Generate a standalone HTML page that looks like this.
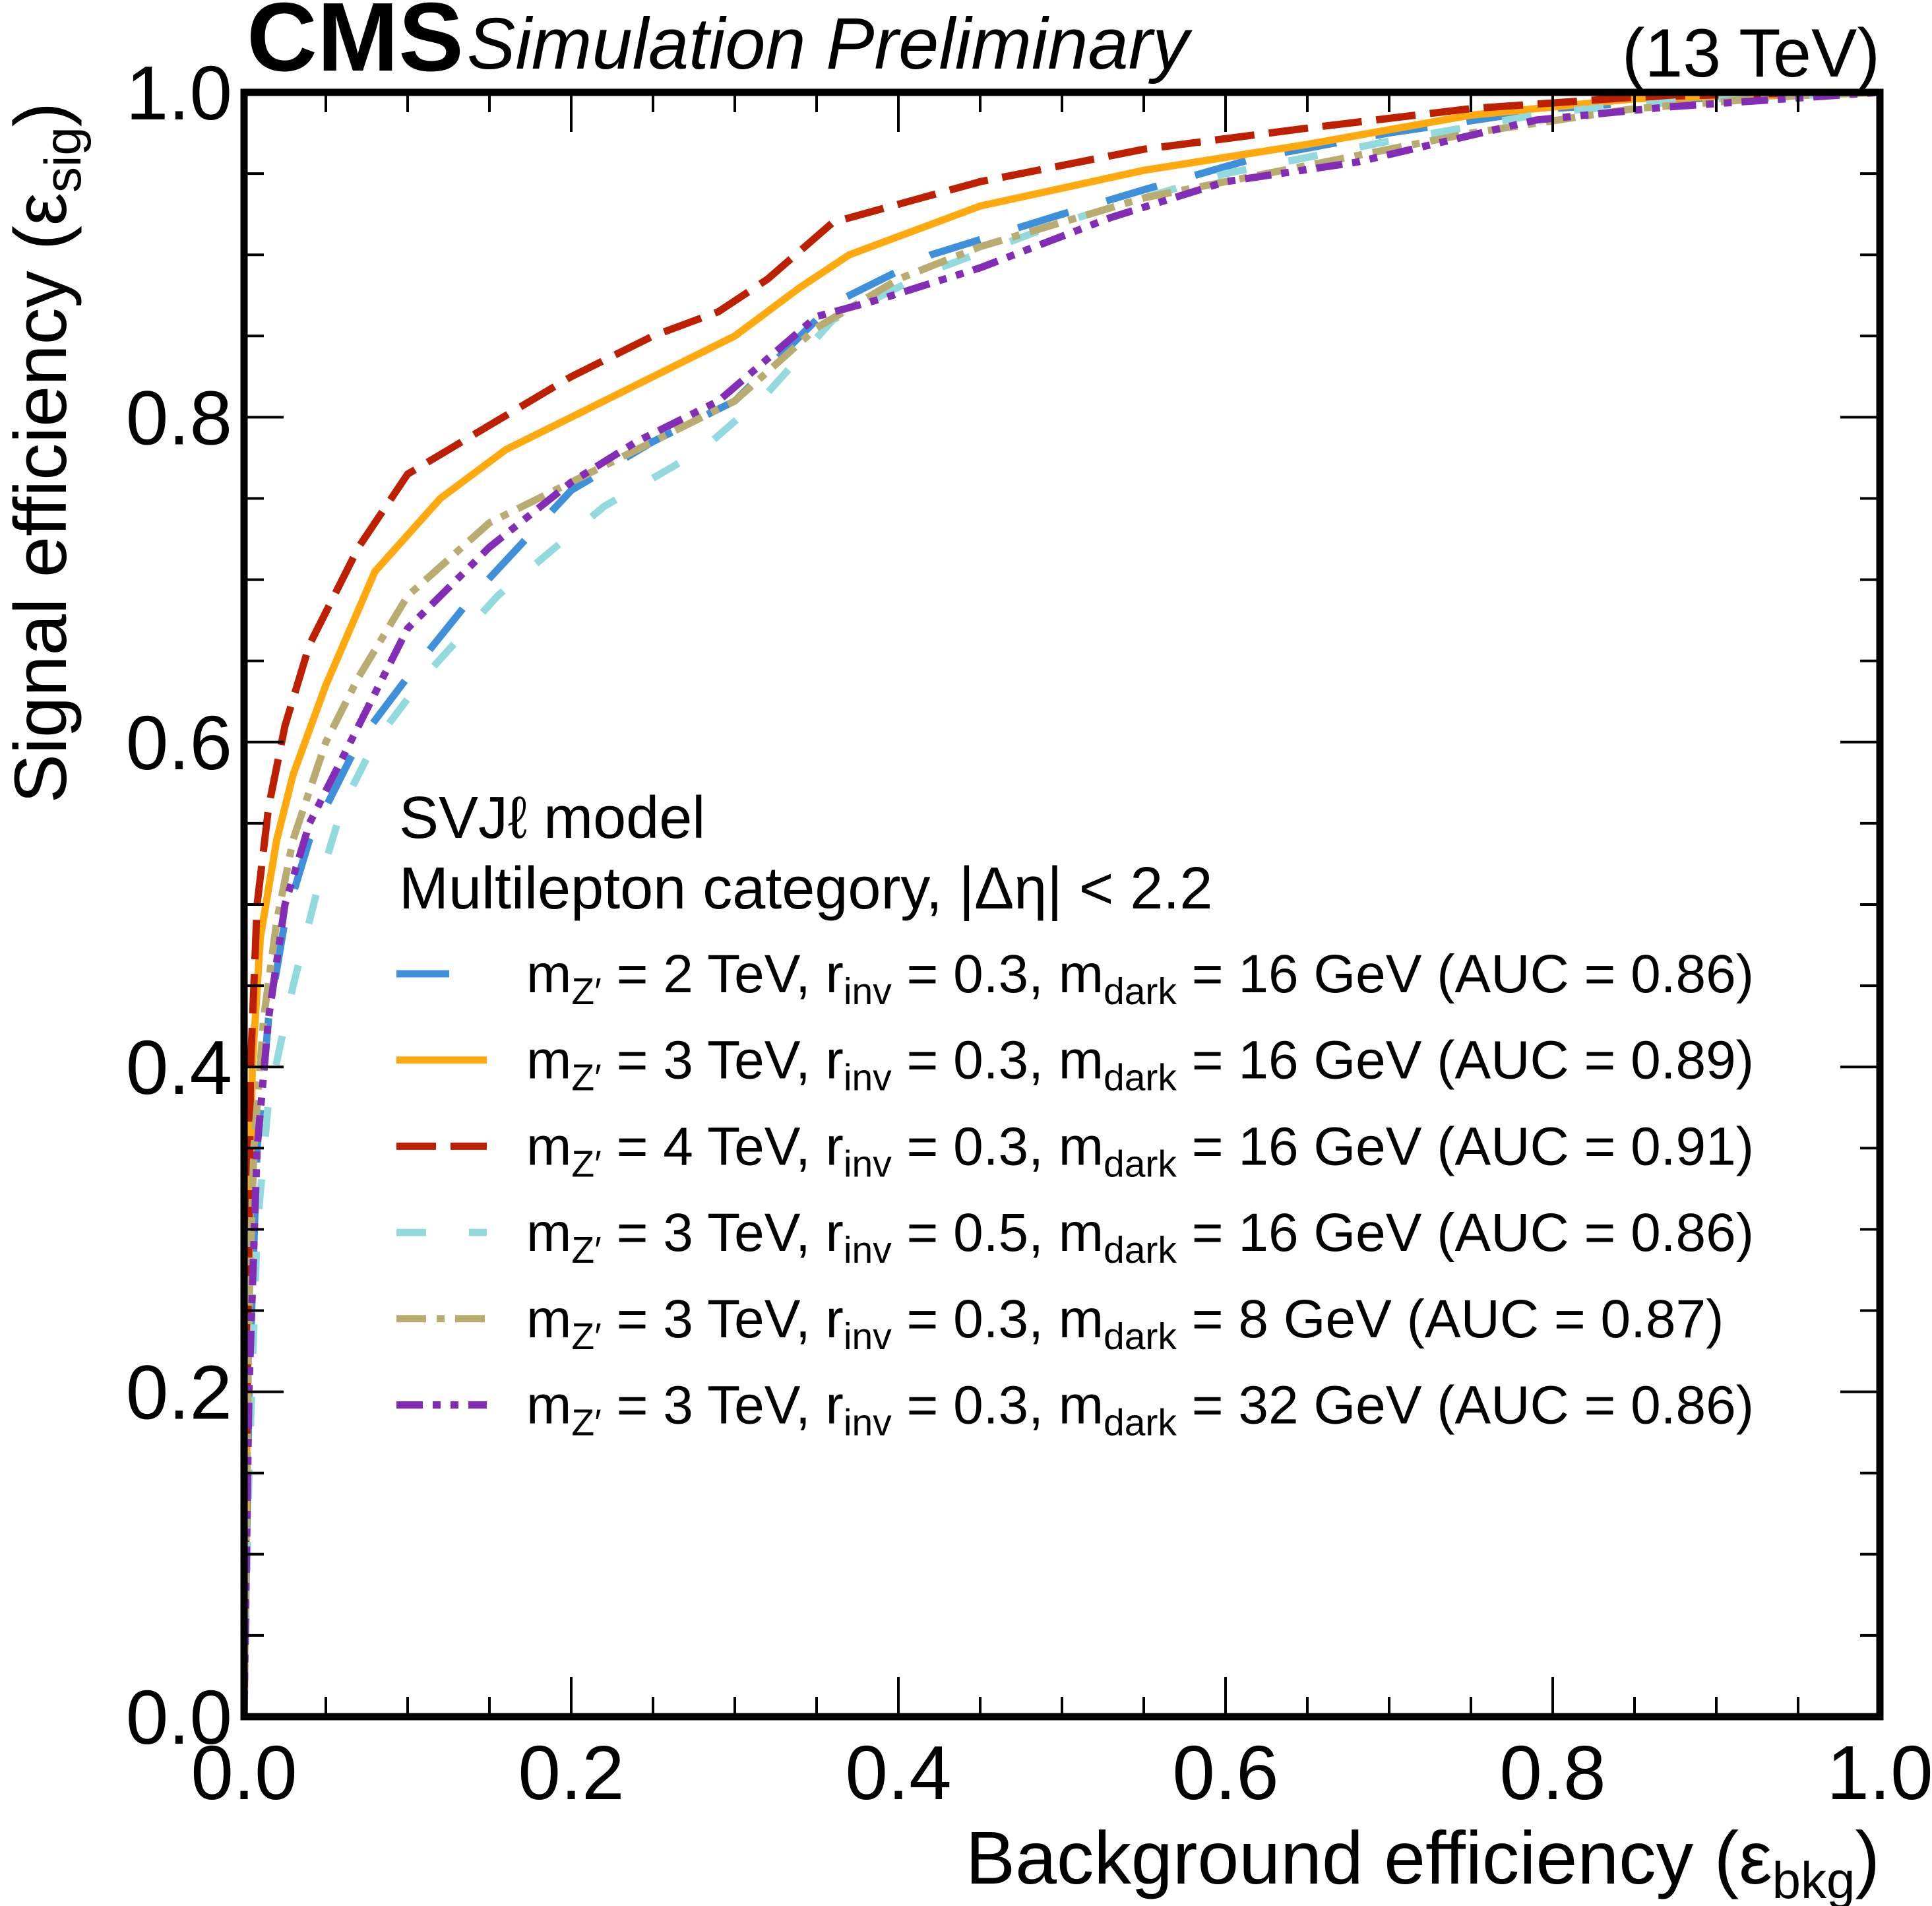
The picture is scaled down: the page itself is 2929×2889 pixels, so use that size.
<!DOCTYPE html>
<html><head><meta charset="utf-8"><style>
html,body{margin:0;padding:0;background:#fff}
svg{display:block;font-family:"Liberation Sans",sans-serif}
</style></head><body>
<svg id="chart" width="2929" height="2889" viewBox="0 0 2929 2889" xmlns="http://www.w3.org/2000/svg">
<g id="curves"></g>
<g id="axes"></g>
<text x="374" y="107" font-size="148" font-weight="bold">CMS</text>
<text x="708" y="104" font-size="110" font-style="italic">Simulation Preliminary</text>
<text x="2850" y="116" font-size="104" text-anchor="end">(13 TeV)</text>
<text x="2850" y="2855" font-size="113" text-anchor="end">Background efficiency (ε<tspan font-size="78" dy="22">bkg</tspan><tspan dy="-22">)</tspan></text>
<text transform="translate(100,155) rotate(-90)" font-size="112" text-anchor="end">Signal efficiency (ε<tspan font-size="78" dy="22">sig</tspan><tspan dy="-22">)</tspan></text>
<text x="605" y="1270" font-size="90">SVJℓ model</text>
<text x="605" y="1377" font-size="90">Multilepton category,  |Δη| &lt; 2.2</text>
<g id="legend"></g>
</svg>
<script>
const X0=370,X1=2850,Y0=2602,Y1=140;
const sx=v=>X0+v*(X1-X0), sy=v=>Y0-v*(Y0-Y1);
const NS="http://www.w3.org/2000/svg";
const xTickLabels=["0.0","0.2","0.4","0.6","0.8","1.0"];
const yTickLabels=["0.0","0.2","0.4","0.6","0.8","1.0"];
const seriesNames=["mz2-rinv03-md16","mz3-rinv03-md16","mz4-rinv03-md16","mz3-rinv05-md16","mz3-rinv03-md8","mz3-rinv03-md32"];
const mzVals=["2","3","4","3","3","3"];
const rinvVals=["0.3","0.3","0.3","0.5","0.3","0.3"];
const mdarkVals=["16","16","16","16","8","32"];
const aucVals=["0.86","0.89","0.91","0.86","0.87","0.86"];
const blueX=[0,0.003,0.008,0.015,0.025,0.04,0.07,0.1,0.14,0.2,0.25,0.3,0.36,0.42,0.5,0.55,0.62,0.7,0.8,0.9,1];
const blueY=[0,0.2,0.35,0.43,0.49,0.54,0.6,0.64,0.69,0.755,0.785,0.81,0.87,0.9,0.925,0.94,0.96,0.975,0.99,0.997,1];
const orangeX=[0,0.002,0.005,0.01,0.02,0.03,0.05,0.08,0.12,0.16,0.2,0.25,0.3,0.34,0.37,0.45,0.55,0.65,0.75,0.85,1];
const orangeY=[0,0.2,0.4,0.48,0.54,0.58,0.635,0.705,0.75,0.78,0.8,0.825,0.85,0.88,0.9,0.93,0.952,0.968,0.986,0.996,1];
const redX=[0,0.002,0.004,0.008,0.015,0.025,0.04,0.07,0.1,0.15,0.2,0.25,0.29,0.32,0.36,0.45,0.55,0.65,0.75,0.85,0.92,1];
const redY=[0,0.2,0.4,0.5,0.56,0.61,0.66,0.72,0.765,0.795,0.825,0.85,0.865,0.885,0.92,0.945,0.965,0.978,0.99,0.997,0.999,1];
const cyanX=[0,0.003,0.008,0.015,0.03,0.045,0.06,0.08,0.11,0.155,0.22,0.28,0.32,0.36,0.42,0.5,0.6,0.7,0.8,0.9,1];
const cyanY=[0,0.15,0.3,0.38,0.45,0.51,0.56,0.6,0.64,0.69,0.745,0.78,0.815,0.86,0.89,0.92,0.95,0.97,0.988,0.996,1];
const tanX=[0,0.003,0.006,0.012,0.02,0.03,0.05,0.07,0.1,0.15,0.2,0.25,0.3,0.35,0.4,0.45,0.55,0.65,0.75,0.85,0.95,1];
const tanY=[0,0.25,0.35,0.43,0.49,0.54,0.6,0.64,0.69,0.735,0.76,0.785,0.81,0.855,0.885,0.905,0.935,0.955,0.975,0.99,0.998,1];
const purpleX=[0,0.003,0.008,0.015,0.025,0.04,0.07,0.1,0.15,0.2,0.24,0.29,0.35,0.39,0.45,0.53,0.6,0.68,0.79,0.87,1];
const purpleY=[0,0.2,0.35,0.43,0.5,0.55,0.61,0.67,0.72,0.76,0.785,0.81,0.862,0.873,0.892,0.923,0.945,0.957,0.983,0.991,1];
const allX=[blueX,orangeX,redX,cyanX,tanX,purpleX], allY=[blueY,orangeY,redY,cyanY,tanY,purpleY];
const colors=["#3f90da","#ffa90e","#bd1f01","#92dadd","#b9ac70","#832db6"];
const dashes=["80 60","","60 22","45 65","45 16 12 16","40 15 12 15 12 15"];
const curves=document.getElementById('curves');
for(let i=0;i<6;i++){
  const p=document.createElementNS(NS,'path');
  
  
  let d='';allX[i].forEach((x,j)=>{d+=(j?'L':'M')+sx(x).toFixed(1)+','+sy(allY[i][j]).toFixed(1);});
  p.setAttribute('d',d);p.setAttribute('fill','none');p.setAttribute('stroke',colors[i]);
  p.setAttribute('stroke-width','11');if(dashes[i])p.setAttribute('stroke-dasharray',dashes[i]);
  curves.appendChild(p);
}
const axes=document.getElementById('axes');
function ln(x1,y1,x2,y2,w,name){const l=document.createElementNS(NS,'line');


l.setAttribute('x1',x1);l.setAttribute('y1',y1);l.setAttribute('x2',x2);l.setAttribute('y2',y2);
l.setAttribute('stroke','#000');l.setAttribute('stroke-width',w);axes.appendChild(l);}
for(let k=0;k<=20;k++){const v=k/20,maj=k%4===0,L=maj?60:30;
 if(k>0&&k<20){ln(sx(v),Y0,sx(v),Y0-L,4,'x-tick');ln(sx(v),Y1,sx(v),Y1+L,4,'x-tick-top');
 ln(X0,sy(v),X0+L,sy(v),4,'y-tick');ln(X1,sy(v),X1-L,sy(v),4,'y-tick-right');}}
const fr=document.createElementNS(NS,'rect');


fr.setAttribute('x',X0);fr.setAttribute('y',Y1);fr.setAttribute('width',X1-X0);fr.setAttribute('height',Y0-Y1);
fr.setAttribute('fill','none');fr.setAttribute('stroke','#000');fr.setAttribute('stroke-width','11');axes.appendChild(fr);
xTickLabels.forEach((t,i)=>{const e=document.createElementNS(NS,'text');


e.setAttribute('x',sx(i/5));e.setAttribute('y',2727);e.setAttribute('font-size','116');e.setAttribute('text-anchor','middle');e.textContent=t;axes.appendChild(e);});
yTickLabels.forEach((t,i)=>{const e=document.createElementNS(NS,'text');


e.setAttribute('x',352);e.setAttribute('y',sy(i/5)+41);e.setAttribute('font-size','116');e.setAttribute('text-anchor','end');e.textContent=t;axes.appendChild(e);});
const leg=document.getElementById('legend');
for(let i=0;i<6;i++){const y=1504+i*130.7;
 const l=document.createElementNS(NS,'line');
 
 
 l.setAttribute('x1',601);l.setAttribute('x2',738);l.setAttribute('y1',y-28);l.setAttribute('y2',y-28);
 l.setAttribute('stroke',colors[i]);l.setAttribute('stroke-width','11');if(dashes[i])l.setAttribute('stroke-dasharray',dashes[i]);leg.appendChild(l);
 const t=document.createElementNS(NS,'text');
 
 
 t.setAttribute('x',798);t.setAttribute('y',y);t.setAttribute('font-size','82');
 t.innerHTML='m<tspan font-size="57" dy="18">Z′</tspan><tspan dy="-18"> = '+mzVals[i]+' TeV, r</tspan><tspan font-size="57" dy="18">inv</tspan><tspan dy="-18"> = '+rinvVals[i]+', m</tspan><tspan font-size="57" dy="18">dark</tspan><tspan dy="-18"> = '+mdarkVals[i]+' GeV (AUC = '+aucVals[i]+')</tspan>';
 leg.appendChild(t);}
</script>
</body></html>
